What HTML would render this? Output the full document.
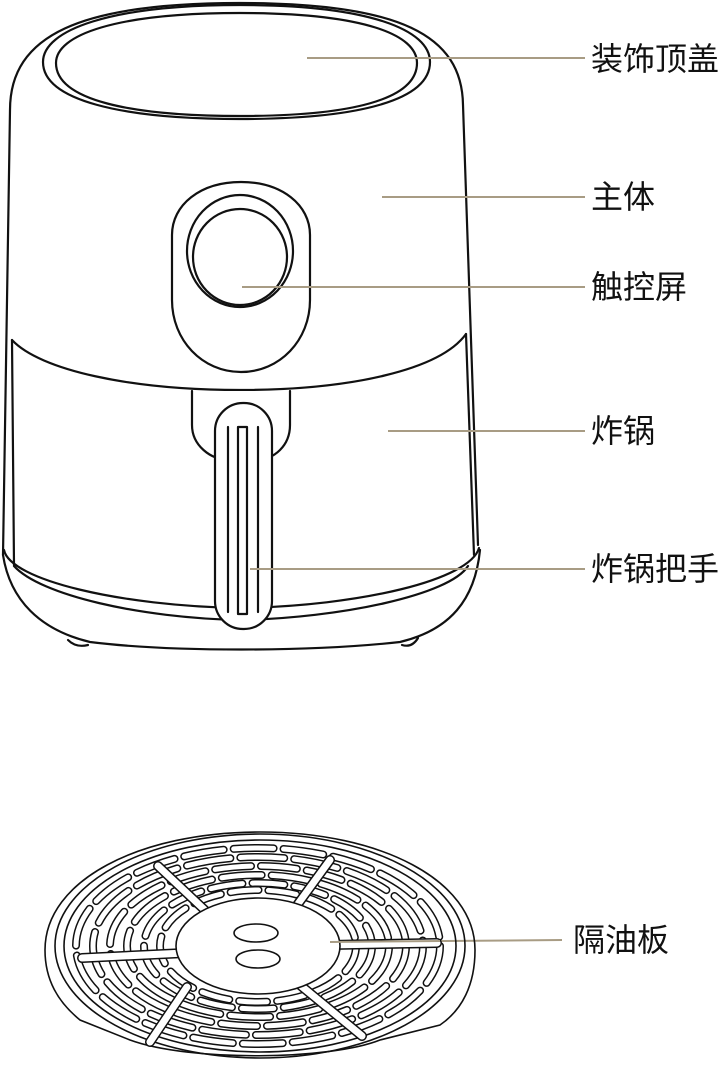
<!DOCTYPE html>
<html><head><meta charset="utf-8"><style>
html,body{margin:0;padding:0;background:#fff;}
svg{display:block;}
text{font-family:"Liberation Sans","Noto Sans CJK SC",sans-serif;font-size:32px;fill:#111;}
</style></head><body>
<svg width="725" height="1075" viewBox="0 0 725 1075" xmlns="http://www.w3.org/2000/svg">
<g fill="none" stroke="#111" stroke-width="2.2" stroke-linecap="round" stroke-linejoin="round">
<!-- body outline -->
<path d="M3,555 L10,110 C10,35 80,3 240,3 C400,3 462,35 463,105 L478,545"/>
<!-- lid -->
<path d="M240,5 C370,5 430,30 430,62 C430,100 360,119 240,119 C120,119 43,100 43,62 C43,30 110,5 240,5 Z"/>
<path d="M240,13 C365,13 417,35 417,63 C417,100 350,116 240,116 C130,116 56,100 56,63 C56,35 115,13 240,13 Z"/>
<!-- divider -->
<path d="M12,340 C40,370 130,390 240,390 C350,390 440,370 466,334"/>
<path d="M12,340 L14,565"/>
<path d="M466,334 L474,555"/>
<!-- bottom band -->
<path d="M4,550 C10,580 120,606 240,608 C360,606 470,580 479,548"/>
<path d="M14,566 C40,595 140,618 240,620 C340,618 450,595 468,566"/>
<!-- base -->
<path d="M3,555 C10,600 40,630 90,642 C170,652 310,652 400,642 C450,630 475,600 480,550"/>
<path d="M68,640 Q76,648 88,645" />
<path d="M402,645 Q412,648 418,638" />
<!-- control panel -->
<path d="M172,235 C172,205 200,182 241,182 C282,182 310,205 310,235 L310,300 C310,340 280,372 241,372 C202,372 172,340 172,300 Z" fill="#fff"/>
<ellipse cx="240" cy="251" rx="53" ry="56"/>
<ellipse cx="240" cy="257" rx="47" ry="48"/>
<!-- handle mount -->
<path d="M192,391 L192,425 C192,445 210,460 230,460 L255,460 C275,460 290,445 290,425 L290,391" fill="#fff"/>
<!-- handle -->
<rect x="215" y="403" width="57" height="226" rx="28" ry="28" fill="#fff"/>
<line x1="228" y1="427" x2="228" y2="612"/>
<rect x="238" y="427" width="9" height="187"/>
<line x1="258" y1="427" x2="258" y2="612"/>
</g>
<!-- leader lines -->
<g stroke="#a89c84" stroke-width="2">
<line x1="307" y1="58" x2="585" y2="58"/>
<line x1="382" y1="197" x2="585" y2="197"/>
<line x1="242" y1="287" x2="585" y2="287"/>
<line x1="388" y1="431" x2="585" y2="431"/>
<line x1="250" y1="569" x2="585" y2="569"/>
<line x1="330" y1="942" x2="562" y2="940"/>
</g>
<text x="591" y="70">装饰顶盖</text>
<text x="591" y="208">主体</text>
<text x="591" y="298">触控屏</text>
<text x="591" y="442">炸锅</text>
<text x="591" y="580">炸锅把手</text>
<text x="573" y="951">隔油板</text>
<!-- plate -->
<g fill="none" stroke="#111" stroke-width="1.6">
<path d="M45,950 C45,880 140,832 260,832 C380,832 475,880 475,950 C475,985 462,1010 440,1025 L380,1040 C330,1060 190,1062 130,1040 L80,1020 C58,1002 45,980 45,950 Z"/>
<ellipse cx="260" cy="946" rx="205" ry="112"/>
<ellipse cx="260" cy="946" rx="196" ry="106"/>
</g>
<g fill="none" stroke-linecap="round">
<g stroke="#111" stroke-width="8">
<ellipse cx="258" cy="946" rx="182" ry="98" stroke-dasharray="40 10"/>
<ellipse cx="258" cy="946" rx="165" ry="89" stroke-dasharray="44 10"/>
<ellipse cx="258" cy="946" rx="148" ry="80" stroke-dasharray="36 10"/>
<ellipse cx="258" cy="946" rx="131" ry="71" stroke-dasharray="40 10"/>
<ellipse cx="258" cy="946" rx="114" ry="63" stroke-dasharray="32 10"/>
<ellipse cx="258" cy="946" rx="98" ry="56" stroke-dasharray="28 10"/>
</g>
<g stroke="#fff" stroke-width="5">
<ellipse cx="258" cy="946" rx="182" ry="98" stroke-dasharray="40 10"/>
<ellipse cx="258" cy="946" rx="165" ry="89" stroke-dasharray="44 10"/>
<ellipse cx="258" cy="946" rx="148" ry="80" stroke-dasharray="36 10"/>
<ellipse cx="258" cy="946" rx="131" ry="71" stroke-dasharray="40 10"/>
<ellipse cx="258" cy="946" rx="114" ry="63" stroke-dasharray="32 10"/>
<ellipse cx="258" cy="946" rx="98" ry="56" stroke-dasharray="28 10"/>
</g>
</g>
<!-- spokes -->
<g stroke-linecap="round">
<g stroke="#111" stroke-width="10">
<line x1="158" y1="866" x2="210" y2="915"/>
<line x1="330" y1="860" x2="295" y2="908"/>
<line x1="82" y1="958" x2="185" y2="953"/>
<line x1="330" y1="945" x2="437" y2="943"/>
<line x1="187" y1="987" x2="150" y2="1042"/>
<line x1="300" y1="985" x2="362" y2="1036"/>
</g>
<g stroke="#fff" stroke-width="7">
<line x1="158" y1="866" x2="210" y2="915"/>
<line x1="330" y1="860" x2="295" y2="908"/>
<line x1="82" y1="958" x2="185" y2="953"/>
<line x1="330" y1="945" x2="437" y2="943"/>
<line x1="187" y1="987" x2="150" y2="1042"/>
<line x1="300" y1="985" x2="362" y2="1036"/>
</g>
</g>
<g fill="#fff" stroke="#111" stroke-width="1.6">
<ellipse cx="258" cy="946" rx="82" ry="48"/>
<ellipse cx="256" cy="933" rx="22" ry="9"/>
<ellipse cx="258" cy="959" rx="22" ry="9"/>
</g>
<line x1="330" y1="942" x2="440" y2="941" stroke="#a89c84" stroke-width="2"/>
</svg>
</body></html>
